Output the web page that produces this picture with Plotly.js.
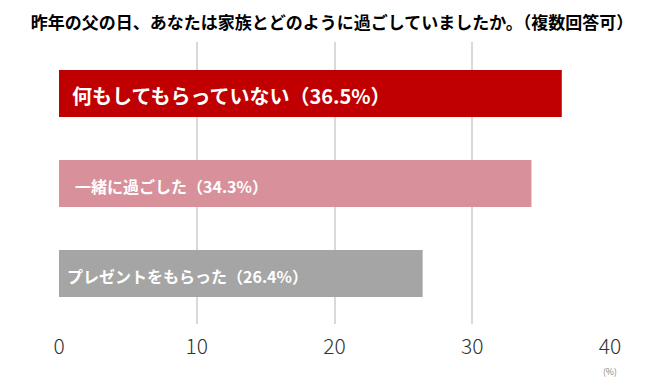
<!DOCTYPE html>
<html><head><meta charset="utf-8">
<script src="https://cdn.plot.ly/plotly-3.0.1.min.js"></script>
<style>html,body{margin:0;padding:0;background:#fff}</style>
</head><body><div id="chart" style="width:664px;height:382px"></div>
<script>
const categories = ["何もしてもらっていない", "一緒に過ごした", "プレゼントをもらった"];
const values = [36.5, 34.3, 26.4];
const tickVals = [0, 10, 20, 30, 40];
const tickText = ["0", "10", "20", "30", "40"];

// styles
const barColors = ["#C00000", "#D8919B", "#A5A5A5"];
const labelSizes = [20, 16, 16];
const labelShifts = [11, 14, 6];

const trace = {
  type: "bar",
  orientation: "h",
  x: values,
  y: categories,
  marker: {color: barColors},
  width: 0.52,
  hoverinfo: "none"
};

const labelAnns = categories.map((c, i) => ({
  text: c + "（" + values[i].toFixed(1) + "%）",
  x: 0, y: c, xref: "x", yref: "y",
  xanchor: "left", yanchor: "middle", xshift: labelShifts[i], yshift: -2,
  showarrow: false,
  font: {family: "Noto Sans CJK JP", size: labelSizes[i], color: "#ffffff", weight: 700}
}));

const layout = {
  width: 664, height: 382,
  margin: {l: 59, r: 54, t: 42, b: 58},
  paper_bgcolor: "#ffffff", plot_bgcolor: "#ffffff",
  showlegend: false,
  title: {text: "昨年の父の日、あなたは家族とどのように過ごしていましたか。（複数回答可）",
          font: {family: "Noto Sans CJK JP", size: 17, color: "#000", weight: 700},
          x: 0.5, xanchor: "center", y: 0.94, yanchor: "middle"},
  xaxis: {range: [0, 40], tickvals: tickVals, ticktext: tickText, showgrid: true,
          gridcolor: "#D9D9D9", gridwidth: 2, zeroline: false, showline: false,
          ticks: "", ticklen: 0, ticklabelstandoff: 8,
          tickfont: {family: "Noto Sans CJK JP", size: 21, color: "#333", weight: 300},
          fixedrange: true},
  yaxis: {type: "category", autorange: false, range: [2.561, -0.572], showticklabels: false,
          showgrid: false, zeroline: false, showline: false, ticks: ""},
  annotations: labelAnns.concat([{text: "(%)", x: 40, y: 0, xref: "x", yref: "paper", yshift: -47,
                 showarrow: false, font: {family: "Noto Sans CJK JP", size: 9, color: "#555", weight: 300},
                 xanchor: "center", yanchor: "middle"}])
};

Plotly.newPlot("chart", [trace], layout, {displayModeBar: false, staticPlot: true});
</script></body></html>
